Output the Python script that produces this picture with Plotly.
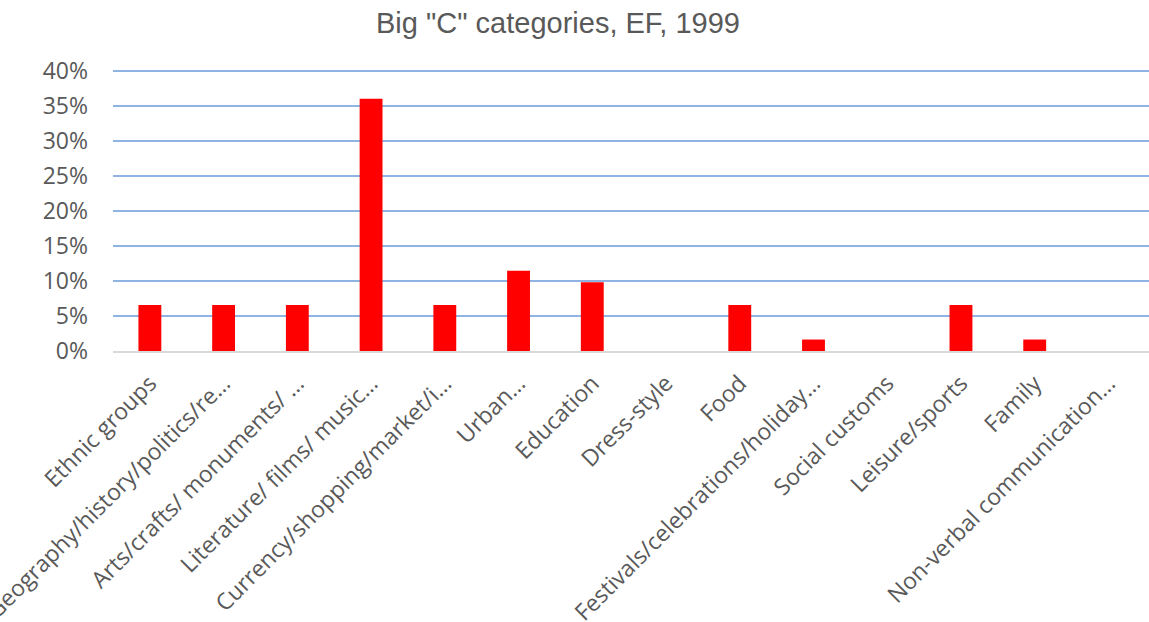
import plotly.graph_objects as go

# Big "C" culture categories, share of items (EF, 1999)
categories = [
    "Ethnic groups",
    "Geography/history/politics/re…",
    "Arts/crafts/ monuments/ …",
    "Literature/ films/ music…",
    "Currency/shopping/market/i…",
    "Urban…",
    "Education",
    "Dress-style",
    "Food",
    "Festivals/celebrations/holiday…",
    "Social customs",
    "Leisure/sports",
    "Family",
    "Non-verbal communication…",
]
counts = [4, 4, 4, 22, 4, 7, 6, 0, 4, 1, 0, 4, 1, 0]
total = 61
shares = [c / total for c in counts]

y_ticks = [0, 0.05, 0.10, 0.15, 0.20, 0.25, 0.30, 0.35, 0.40]

fig = go.Figure(
    go.Bar(
        x=categories,
        y=shares,
        marker=dict(color="#ff0000", line=dict(width=0)),
        width=0.31,
    )
)

fig.update_layout(
    width=1149,
    height=622,
    margin=dict(l=113, r=0, t=69, b=271, autoexpand=False),
    paper_bgcolor="white",
    plot_bgcolor="white",
    showlegend=False,
    title=dict(
        text='Big "C" categories, EF, 1999',
        font=dict(family="Liberation Sans, Arial", size=29, color="#595959"),
        x=558 / 1149,
        xref="container",
        xanchor="center",
        y=1 - 23 / 622,
        yref="container",
        yanchor="middle",
    ),
    font=dict(family="Open Sans", color="#595959"),
)

fig.update_xaxes(
    automargin=False,
    tickangle=-45,
    tickfont=dict(family="Open Sans", size=23, color="#595959"),
    showgrid=False,
    showline=True,
    linecolor="#d9d9d9",
    linewidth=1.5,
    ticks="",
    ticklabelstandoff=8,
    range=[-0.5, 13.55],
)

fig.update_yaxes(
    automargin=False,
    range=[0, 0.403],
    tickvals=y_ticks,
    tickformat=".0%",
    tickfont=dict(family="Open Sans", size=23, color="#595959"),
    showgrid=True,
    gridcolor="#8fb4e3",
    gridwidth=1.5,
    zeroline=False,
    ticks="",
    ticklabelstandoff=24,
)

fig.write_html("out.html")
